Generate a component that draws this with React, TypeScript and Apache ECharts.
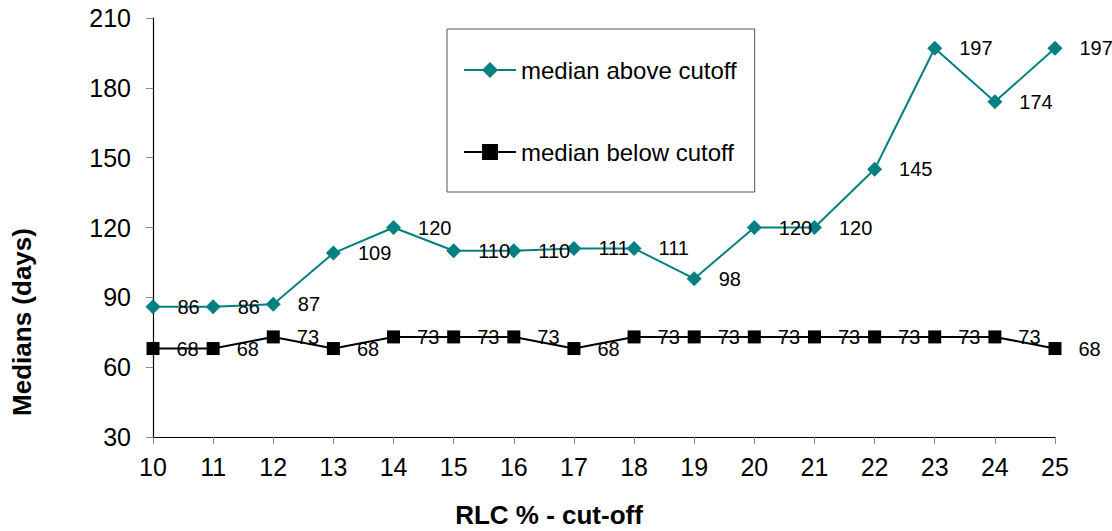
import React, { useEffect, useRef } from "react";
import * as echarts from "echarts";

const categories = ["10", "11", "12", "13", "14", "15", "16", "17", "18", "19", "20", "21", "22", "23", "24", "25"];
const aboveValues = [86, 86, 87, 109, 120, 110, 110, 111, 111, 98, 120, 120, 145, 197, 174, 197];
const belowValues = [68, 68, 73, 68, 73, 73, 73, 68, 73, 73, 73, 73, 73, 73, 73, 68];
const yMin = 30;
const yMax = 210;
const yStep = 30;

const FONT = "'Liberation Sans', Arial, sans-serif";

export default function App() {
  const ref = useRef<HTMLDivElement>(null);
  useEffect(() => {
    if (!ref.current) return;
    const chart = echarts.init(ref.current, null, { renderer: "svg" });
    const label = {
      show: true,
      position: "right",
      distance: 17,
      color: "#000",
      fontSize: 20,
      fontFamily: FONT,
    };
    chart.setOption({
      animation: false,
      backgroundColor: "#fff",
      textStyle: { fontFamily: FONT },
      grid: { left: 153, right: 57, top: 18, bottom: 94 },
      legend: {
        orient: "vertical",
        left: 447,
        top: 29,
        padding: [29, 18, 28, 16],
        itemGap: 58,
        itemWidth: 52,
        itemHeight: 20,
        backgroundColor: "#fff",
        borderColor: "#555",
        borderWidth: 1,
        textStyle: { fontSize: 24, fontFamily: FONT, color: "#000" },
        data: ["median above cutoff", "median below cutoff"],
      },
      xAxis: {
        type: "category",
        data: categories,
        boundaryGap: false,
        axisLine: { lineStyle: { color: "#000", width: 1.2 } },
        axisTick: { show: true, length: 7, lineStyle: { color: "#888" } },
        axisLabel: { color: "#000", fontSize: 25, margin: 17, fontFamily: FONT },
        splitLine: { show: false },
      },
      yAxis: {
        type: "value",
        min: yMin,
        max: yMax,
        interval: yStep,
        axisLine: { show: true, lineStyle: { color: "#000", width: 1.2 } },
        axisTick: { show: true, length: 7, lineStyle: { color: "#888" } },
        axisLabel: { color: "#000", fontSize: 25, margin: 22, fontFamily: FONT },
        splitLine: { show: false },
      },
      graphic: [
        {
          type: "text",
          x: 549,
          y: 515,
          style: {
            text: "RLC % - cut-off",
            fontSize: 26,
            fontWeight: "bold",
            fontFamily: FONT,
            fill: "#000",
            align: "center",
            verticalAlign: "middle",
          },
        },
        {
          type: "text",
          x: 22,
          y: 322,
          rotation: Math.PI / 2,
          style: {
            text: "Medians (days)",
            fontSize: 26,
            fontWeight: "bold",
            fontFamily: FONT,
            fill: "#000",
            align: "center",
            verticalAlign: "middle",
          },
        },
      ],
      series: [
        {
          name: "median above cutoff",
          type: "line",
          data: aboveValues,
          symbol: "diamond",
          symbolSize: 15,
          color: "#008080",
          lineStyle: { width: 2, color: "#008080" },
          itemStyle: { color: "#008080" },
          label,
        },
        {
          name: "median below cutoff",
          type: "line",
          data: belowValues,
          symbol: "rect",
          symbolSize: 13,
          color: "#000",
          lineStyle: { width: 2, color: "#000" },
          itemStyle: { color: "#000" },
          label,
        },
      ],
    });
    return () => chart.dispose();
  }, []);
  return <div ref={ref} style={{ width: 1112, height: 531, position: "absolute", left: 0, top: 0 }} />;
}
